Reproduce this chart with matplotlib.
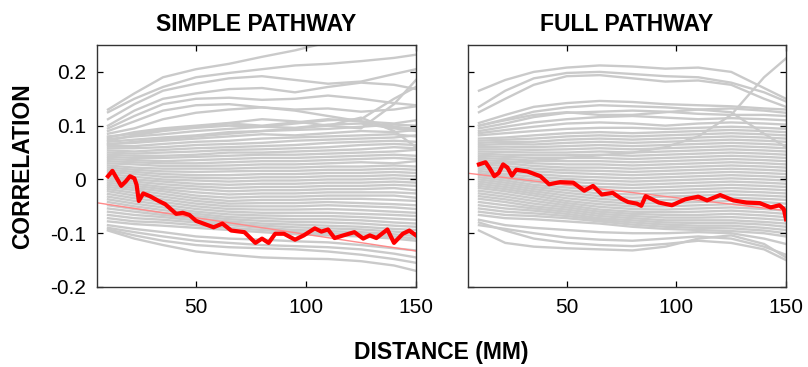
import matplotlib
matplotlib.use("Agg")
import matplotlib.pyplot as plt
import numpy as np

plt.rcParams['font.family'] = ['Liberation Sans', 'DejaVu Sans']

# distances (mm) at which the grey traces are sampled
dist_pts = [10, 22, 35, 50, 65, 80, 95, 110, 125, 140, 150]

# ---- SIMPLE PATHWAY ----
simple_gray = [
    [0.130, 0.160, 0.190, 0.205, 0.215, 0.228, 0.240, 0.255, 0.265, 0.270, 0.275],
    [0.125, 0.150, 0.172, 0.190, 0.198, 0.205, 0.212, 0.215, 0.220, 0.226, 0.232],
    [0.112, 0.140, 0.165, 0.178, 0.188, 0.192, 0.185, 0.178, 0.182, 0.196, 0.205],
    [0.100, 0.128, 0.150, 0.160, 0.168, 0.170, 0.162, 0.172, 0.180, 0.176, 0.168],
    [0.095, 0.118, 0.140, 0.150, 0.152, 0.148, 0.150, 0.156, 0.150, 0.142, 0.138],
    [0.090, 0.108, 0.128, 0.138, 0.140, 0.134, 0.130, 0.132, 0.126, 0.130, 0.136],
    [0.085, 0.095, 0.112, 0.124, 0.130, 0.134, 0.128, 0.118, 0.108, 0.098, 0.094],
    [0.078, 0.088, 0.095, 0.100, 0.105, 0.112, 0.108, 0.100, 0.095, 0.140, 0.185],
    [0.072, 0.082, 0.090, 0.096, 0.100, 0.098, 0.104, 0.110, 0.112, 0.150, 0.172],
    [0.065, 0.070, 0.075, 0.080, 0.085, 0.090, 0.095, 0.100, 0.115, 0.090, 0.060],
    [0.080, 0.085, 0.092, 0.098, 0.104, 0.100, 0.106, 0.112, 0.108, 0.104, 0.110],
    [0.075, 0.080, 0.084, 0.090, 0.094, 0.098, 0.096, 0.102, 0.104, 0.095, 0.090],
    [0.070, 0.074, 0.078, 0.082, 0.088, 0.090, 0.092, 0.094, 0.098, 0.102, 0.100],
    [0.066, 0.068, 0.072, 0.076, 0.080, 0.084, 0.082, 0.086, 0.090, 0.088, 0.092],
    [0.062, 0.062, 0.066, 0.070, 0.072, 0.076, 0.078, 0.080, 0.082, 0.084, 0.080],
    [0.058, 0.058, 0.060, 0.064, 0.066, 0.068, 0.072, 0.074, 0.076, 0.078, 0.082],
    [0.054, 0.052, 0.055, 0.058, 0.060, 0.062, 0.064, 0.068, 0.070, 0.072, 0.070],
    [0.050, 0.048, 0.050, 0.052, 0.055, 0.056, 0.058, 0.060, 0.064, 0.066, 0.064],
    [0.046, 0.044, 0.044, 0.046, 0.050, 0.050, 0.052, 0.054, 0.056, 0.060, 0.058],
    [0.042, 0.040, 0.040, 0.042, 0.044, 0.046, 0.046, 0.048, 0.050, 0.052, 0.055],
    [0.038, 0.036, 0.034, 0.036, 0.038, 0.040, 0.040, 0.042, 0.044, 0.046, 0.044],
    [0.034, 0.032, 0.030, 0.030, 0.032, 0.034, 0.034, 0.036, 0.038, 0.040, 0.038],
    [0.030, 0.028, 0.025, 0.025, 0.026, 0.028, 0.028, 0.030, 0.032, 0.030, 0.034],
    [0.026, 0.022, 0.020, 0.020, 0.020, 0.022, 0.022, 0.024, 0.024, 0.026, 0.024],
    [0.022, 0.018, 0.015, 0.014, 0.015, 0.016, 0.016, 0.018, 0.018, 0.020, 0.018],
    [0.018, 0.014, 0.010, 0.008, 0.008, 0.010, 0.010, 0.012, 0.012, 0.014, 0.012],
    [0.014, 0.010, 0.005, 0.003, 0.002, 0.004, 0.004, 0.006, 0.006, 0.008, 0.006],
    [0.010, 0.005, 0.000, -0.002, -0.004, -0.002, -0.002, 0.000, 0.000, 0.002, 0.000],
    [0.006, 0.000, -0.004, -0.008, -0.010, -0.008, -0.008, -0.006, -0.006, -0.004, -0.006],
    [0.002, -0.004, -0.009, -0.013, -0.016, -0.014, -0.014, -0.012, -0.012, -0.010, -0.012],
    [-0.002, -0.008, -0.014, -0.018, -0.022, -0.020, -0.020, -0.018, -0.018, -0.016, -0.020],
    [-0.006, -0.012, -0.018, -0.024, -0.028, -0.026, -0.026, -0.024, -0.024, -0.024, -0.026],
    [-0.010, -0.016, -0.022, -0.030, -0.034, -0.032, -0.032, -0.030, -0.030, -0.030, -0.034],
    [-0.014, -0.020, -0.027, -0.035, -0.040, -0.038, -0.038, -0.036, -0.036, -0.038, -0.040],
    [-0.018, -0.025, -0.032, -0.040, -0.045, -0.044, -0.044, -0.042, -0.044, -0.046, -0.048],
    [-0.022, -0.030, -0.037, -0.045, -0.050, -0.050, -0.050, -0.048, -0.050, -0.052, -0.055],
    [-0.027, -0.035, -0.042, -0.050, -0.055, -0.056, -0.056, -0.055, -0.057, -0.060, -0.062],
    [-0.032, -0.040, -0.047, -0.055, -0.060, -0.062, -0.062, -0.062, -0.064, -0.066, -0.068],
    [-0.037, -0.045, -0.052, -0.060, -0.065, -0.067, -0.068, -0.068, -0.070, -0.073, -0.075],
    [-0.042, -0.050, -0.057, -0.064, -0.070, -0.072, -0.074, -0.074, -0.076, -0.080, -0.082],
    [-0.048, -0.055, -0.062, -0.068, -0.074, -0.077, -0.079, -0.080, -0.082, -0.086, -0.088],
    [-0.054, -0.060, -0.066, -0.072, -0.078, -0.082, -0.084, -0.086, -0.088, -0.092, -0.094],
    [-0.060, -0.066, -0.070, -0.076, -0.082, -0.086, -0.089, -0.091, -0.093, -0.097, -0.100],
    [-0.066, -0.072, -0.075, -0.080, -0.085, -0.090, -0.094, -0.096, -0.098, -0.102, -0.105],
    [-0.072, -0.078, -0.080, -0.085, -0.090, -0.094, -0.098, -0.100, -0.102, -0.106, -0.110],
    [-0.078, -0.083, -0.086, -0.090, -0.094, -0.098, -0.102, -0.104, -0.106, -0.110, -0.114],
    [-0.085, -0.092, -0.098, -0.106, -0.110, -0.112, -0.115, -0.117, -0.122, -0.128, -0.132],
    [-0.090, -0.098, -0.106, -0.114, -0.118, -0.122, -0.124, -0.126, -0.130, -0.138, -0.145],
    [-0.093, -0.104, -0.114, -0.122, -0.126, -0.128, -0.130, -0.134, -0.140, -0.148, -0.155],
    [-0.095, -0.110, -0.122, -0.134, -0.140, -0.145, -0.147, -0.148, -0.152, -0.160, -0.170],
]

simple_red_x = [10, 12, 14, 16, 18, 20, 22, 23, 24, 26, 29, 33, 36, 41, 44, 47, 50, 54,
                58, 62, 66, 72, 77, 80, 83, 86, 90, 95, 99, 104, 107, 110, 113, 117,
                122, 126, 129, 132, 137, 140, 144, 147, 150]
simple_red_y = [0.006, 0.016, 0.002, -0.012, -0.004, 0.006, 0.002, -0.010, -0.040, -0.026,
                -0.031, -0.040, -0.046, -0.064, -0.062, -0.066, -0.077, -0.083, -0.089,
                -0.082, -0.095, -0.098, -0.118, -0.110, -0.118, -0.101, -0.101, -0.112,
                -0.104, -0.091, -0.097, -0.093, -0.109, -0.104, -0.098, -0.110, -0.104,
                -0.109, -0.093, -0.118, -0.101, -0.095, -0.104]

# linear fit (intercept, slope)
simple_fit = [-0.0403, -0.000618]

# ---- FULL PATHWAY ----
full_gray = [
    [0.165, 0.185, 0.200, 0.208, 0.212, 0.210, 0.206, 0.208, 0.200, 0.170, 0.150],
    [0.135, 0.165, 0.188, 0.198, 0.200, 0.196, 0.192, 0.190, 0.180, 0.162, 0.145],
    [0.125, 0.150, 0.176, 0.192, 0.194, 0.188, 0.182, 0.184, 0.176, 0.150, 0.135],
    [0.030, 0.030, 0.035, 0.040, 0.045, 0.050, 0.060, 0.080, 0.120, 0.190, 0.225],
    [0.100, 0.110, 0.120, 0.125, 0.120, 0.120, 0.125, 0.130, 0.125, 0.085, 0.060],
    [0.105, 0.120, 0.135, 0.142, 0.146, 0.144, 0.140, 0.138, 0.136, 0.132, 0.130],
    [0.100, 0.112, 0.126, 0.134, 0.138, 0.136, 0.134, 0.130, 0.132, 0.128, 0.124],
    [0.095, 0.104, 0.116, 0.124, 0.126, 0.128, 0.126, 0.122, 0.120, 0.120, 0.118],
    [0.090, 0.098, 0.106, 0.112, 0.116, 0.118, 0.115, 0.112, 0.114, 0.112, 0.110],
    [0.086, 0.092, 0.098, 0.104, 0.106, 0.104, 0.100, 0.104, 0.106, 0.104, 0.102],
    [0.082, 0.086, 0.090, 0.094, 0.096, 0.096, 0.094, 0.096, 0.098, 0.096, 0.094],
    [0.076, 0.078, 0.082, 0.086, 0.088, 0.086, 0.088, 0.090, 0.092, 0.090, 0.088],
    [0.072, 0.074, 0.076, 0.080, 0.082, 0.080, 0.082, 0.084, 0.086, 0.084, 0.082],
    [0.068, 0.070, 0.070, 0.074, 0.076, 0.074, 0.076, 0.078, 0.080, 0.078, 0.076],
    [0.064, 0.066, 0.065, 0.068, 0.070, 0.068, 0.070, 0.072, 0.074, 0.072, 0.070],
    [0.060, 0.061, 0.060, 0.062, 0.064, 0.062, 0.064, 0.066, 0.068, 0.066, 0.064],
    [0.056, 0.056, 0.055, 0.056, 0.058, 0.056, 0.058, 0.060, 0.062, 0.060, 0.058],
    [0.052, 0.051, 0.050, 0.050, 0.052, 0.050, 0.052, 0.054, 0.056, 0.054, 0.052],
    [0.048, 0.046, 0.045, 0.045, 0.046, 0.044, 0.046, 0.048, 0.050, 0.048, 0.046],
    [0.044, 0.042, 0.040, 0.040, 0.040, 0.038, 0.040, 0.042, 0.044, 0.042, 0.040],
    [0.040, 0.038, 0.035, 0.034, 0.034, 0.032, 0.034, 0.036, 0.038, 0.036, 0.034],
    [0.036, 0.034, 0.030, 0.028, 0.028, 0.026, 0.028, 0.030, 0.032, 0.030, 0.028],
    [0.032, 0.030, 0.025, 0.022, 0.022, 0.020, 0.022, 0.024, 0.026, 0.024, 0.022],
    [0.028, 0.025, 0.020, 0.017, 0.016, 0.014, 0.016, 0.018, 0.020, 0.018, 0.016],
    [0.024, 0.020, 0.015, 0.012, 0.010, 0.008, 0.010, 0.012, 0.014, 0.012, 0.010],
    [0.020, 0.015, 0.010, 0.006, 0.004, 0.002, 0.004, 0.006, 0.008, 0.006, 0.004],
    [0.016, 0.010, 0.005, 0.001, -0.002, -0.004, -0.002, 0.000, 0.002, 0.000, -0.002],
    [0.012, 0.006, 0.000, -0.004, -0.008, -0.010, -0.008, -0.006, -0.004, -0.006, -0.008],
    [0.008, 0.002, -0.005, -0.010, -0.014, -0.016, -0.014, -0.012, -0.010, -0.012, -0.014],
    [0.004, -0.002, -0.010, -0.015, -0.020, -0.022, -0.020, -0.018, -0.016, -0.018, -0.020],
    [0.000, -0.006, -0.014, -0.020, -0.026, -0.028, -0.026, -0.024, -0.022, -0.024, -0.026],
    [-0.004, -0.010, -0.018, -0.025, -0.031, -0.034, -0.032, -0.030, -0.028, -0.030, -0.032],
    [-0.008, -0.014, -0.022, -0.030, -0.036, -0.040, -0.038, -0.036, -0.034, -0.036, -0.038],
    [-0.012, -0.018, -0.026, -0.035, -0.041, -0.045, -0.044, -0.042, -0.040, -0.042, -0.045],
    [-0.016, -0.022, -0.030, -0.040, -0.046, -0.050, -0.050, -0.048, -0.046, -0.048, -0.052],
    [-0.021, -0.027, -0.035, -0.044, -0.051, -0.055, -0.056, -0.054, -0.052, -0.055, -0.058],
    [-0.026, -0.032, -0.040, -0.048, -0.056, -0.060, -0.061, -0.060, -0.058, -0.061, -0.064],
    [-0.031, -0.037, -0.045, -0.052, -0.060, -0.064, -0.066, -0.066, -0.064, -0.067, -0.070],
    [-0.036, -0.042, -0.050, -0.056, -0.064, -0.068, -0.071, -0.071, -0.070, -0.073, -0.076],
    [-0.042, -0.048, -0.054, -0.060, -0.068, -0.072, -0.076, -0.076, -0.076, -0.079, -0.082],
    [-0.048, -0.054, -0.058, -0.064, -0.072, -0.076, -0.080, -0.081, -0.081, -0.084, -0.088],
    [-0.054, -0.060, -0.063, -0.068, -0.075, -0.080, -0.084, -0.086, -0.086, -0.090, -0.094],
    [-0.060, -0.066, -0.068, -0.072, -0.078, -0.084, -0.088, -0.090, -0.091, -0.095, -0.100],
    [-0.066, -0.072, -0.074, -0.078, -0.082, -0.088, -0.092, -0.094, -0.096, -0.100, -0.106],
    [-0.075, -0.085, -0.090, -0.094, -0.098, -0.100, -0.100, -0.098, -0.100, -0.110, -0.120],
    [-0.085, -0.092, -0.100, -0.108, -0.112, -0.114, -0.110, -0.106, -0.110, -0.125, -0.140],
    [-0.080, -0.095, -0.110, -0.118, -0.122, -0.124, -0.120, -0.114, -0.118, -0.130, -0.150],
    [-0.095, -0.118, -0.125, -0.128, -0.130, -0.132, -0.125, -0.110, -0.104, -0.120, -0.145],
]

full_red_x = [10, 13, 15, 17, 19, 21, 23, 25, 27, 32, 38, 42, 47, 53, 58, 62, 66, 71, 75,
              78, 82, 84, 86, 92, 98, 104, 110, 114, 120, 126, 132, 138, 143, 147, 149, 150]
full_red_y = [0.028, 0.032, 0.020, 0.006, 0.012, 0.028, 0.022, 0.007, 0.018, 0.015, 0.006,
              -0.009, -0.005, -0.006, -0.021, -0.012, -0.028, -0.025, -0.036, -0.042,
              -0.045, -0.049, -0.031, -0.043, -0.048, -0.037, -0.032, -0.039, -0.029,
              -0.039, -0.043, -0.044, -0.052, -0.048, -0.055, -0.074]

full_fit = [0.0139, -0.000479]

y_ticks = [-0.2, -0.1, 0, 0.1, 0.2]
x_ticks = [50, 100, 150]

fig = plt.figure(figsize=(8.08, 3.67), dpi=100)
ax1 = fig.add_axes([97 / 808, 1 - 287 / 367, 319 / 808, 242 / 367])
ax2 = fig.add_axes([468 / 808, 1 - 287 / 367, 318 / 808, 242 / 367])

panels = [
    (ax1, simple_gray, simple_red_x, simple_red_y, simple_fit, 'SIMPLE PATHWAY'),
    (ax2, full_gray, full_red_x, full_red_y, full_fit, 'FULL PATHWAY'),
]

for ax, gray, rx, ry, fit, name in panels:
    for row in gray:
        ax.plot(dist_pts, row, color='#cacaca', lw=1.7, zorder=1)
    xs = np.array([5, 150])
    ax.plot(xs, fit[0] + fit[1] * xs, color='#ff8a8a', lw=1.0, zorder=2)
    ax.plot(rx, ry, color='#ff0000', lw=3.0, zorder=3)
    ax.set_xlim(5, 150)
    ax.set_ylim(-0.2, 0.25)
    ax.set_xticks(x_ticks)
    ax.set_yticks(y_ticks)
    ax.set_xticklabels([str(t) for t in x_ticks])
    ax.tick_params(direction='in', top=True, right=True, length=4, width=0.9,
                   labelsize=15, pad=8)
    for sp in ax.spines.values():
        sp.set_color('#333333')
        sp.set_linewidth(1.0)
    ax.set_title(name, fontsize=16.5, fontweight='bold', pad=10)

ax1.set_yticklabels(['-0.2', '-0.1', '0', '0.1', '0.2'])
ax2.set_yticklabels([])

fig.text(23 / 808, 1 - 166 / 367, 'CORRELATION', rotation=90, ha='center', va='center',
         fontsize=16.5, fontweight='bold')
fig.text(441 / 808, 1 - 352 / 367, 'DISTANCE (MM)', ha='center', va='center',
         fontsize=16.5, fontweight='bold')

fig.savefig('out.png', dpi=100)
